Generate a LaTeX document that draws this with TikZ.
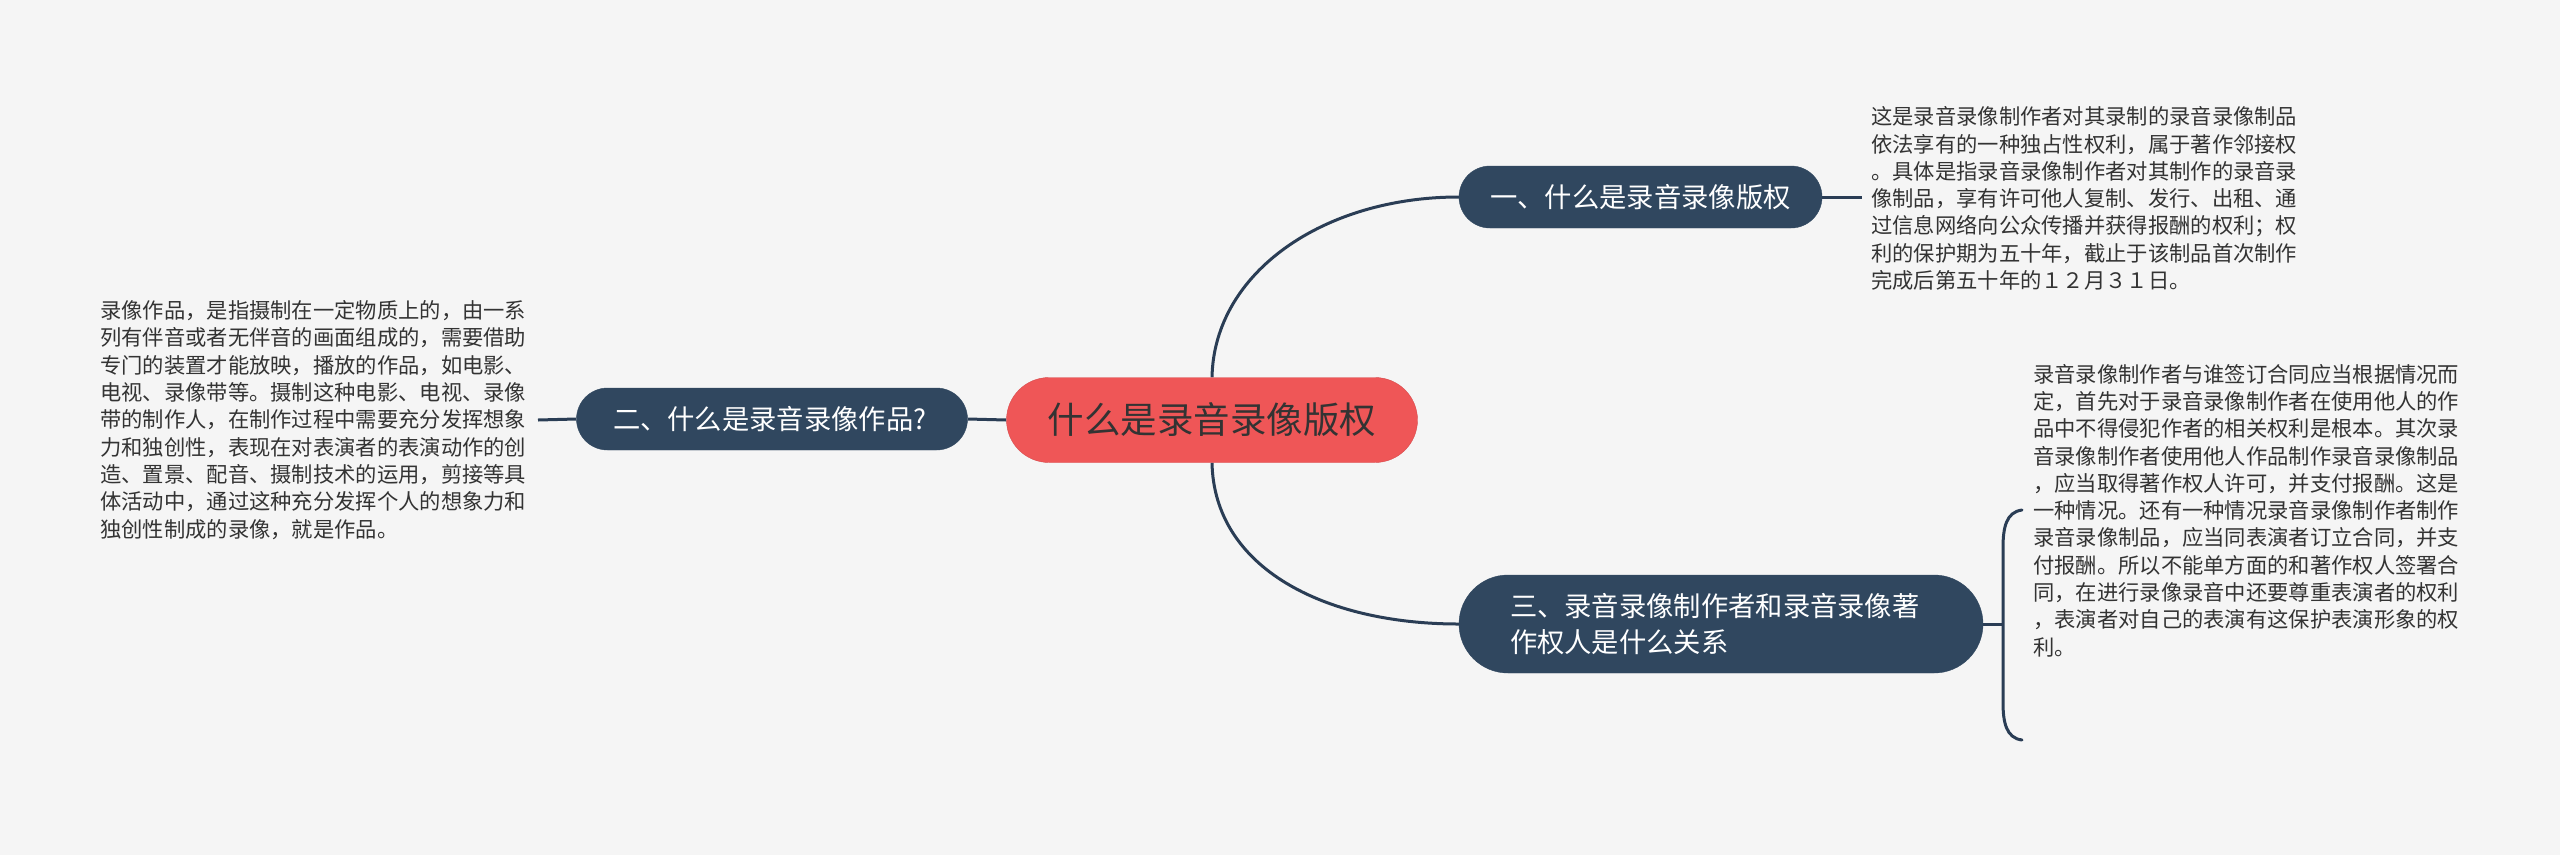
\documentclass[tikz,border=0pt]{standalone}
\usepackage{fontspec}
\setmainfont{Noto Sans CJK SC}
\definecolor{bgc}{HTML}{F5F5F5}
\definecolor{navy}{HTML}{30475F}
\definecolor{linec}{HTML}{2A3D55}
\definecolor{redc}{HTML}{EF5657}
\definecolor{txt}{HTML}{333333}
\pgfdeclarelayer{bg}
\pgfsetlayers{bg,main}
\tikzset{
  topic/.style={fill=navy, draw=navy, text=white, inner sep=0pt, minimum height=62pt, rounded corners=31pt, font=\fontsize{27.3}{36}\selectfont},
  centertopic/.style={fill=redc, draw=redc!90!black, text=txt, inner sep=0pt, minimum width=411pt, minimum height=85pt, rounded corners=42.5pt, font=\fontsize{36.5}{44}\selectfont},
  desc/.style={inner sep=0pt, text=txt, align=left, font=\fontsize{21.3}{27.3}\selectfont},
  conn/.style={draw=linec, line width=3pt},
}
\begin{document}
\begin{tikzpicture}[x=1pt,y=-1pt]
\useasboundingbox (0,0) rectangle (2560,855);

\node[centertopic] (c) at (1212,420) {什么是录音录像版权};
\node[topic, minimum width=363pt] (n1) at (1640.5,197) {一、什么是录音录像版权};
\node[topic, minimum width=391pt, text width=318pt, align=left, inner xsep=33pt] (n2) at (772,419) {二、什么是录音录像作品?};
\node[topic, minimum height=98pt, rounded corners=49pt, text width=422pt, inner xsep=51pt, align=left] (n3) at (1721,624) {三、录音录像制作者和录音录像著\\作权人是什么关系};

\node[desc, anchor=west] (t1) at (1871,198.5) {这是录音录像制作者对其录制的录音录像制品\\依法享有的一种独占性权利，属于著作邻接权\\。具体是指录音录像制作者对其制作的录音录\\像制品，享有许可他人复制、发行、出租、通\\过信息网络向公众传播并获得报酬的权利；权\\利的保护期为五十年，截止于该制品首次制作\\完成后第五十年的１２月３１日。};
\node[desc, anchor=west] (t2) at (100,420) {录像作品，是指摄制在一定物质上的，由一系\\列有伴音或者无伴音的画面组成的，需要借助\\专门的装置才能放映，播放的作品，如电影、\\电视、录像带等。摄制这种电影、电视、录像\\带的制作人，在制作过程中需要充分发挥想象\\力和独创性，表现在对表演者的表演动作的创\\造、置景、配音、摄制技术的运用，剪接等具\\体活动中，通过这种充分发挥个人的想象力和\\独创性制成的录像，就是作品。};
\node[desc, anchor=west] (t3) at (2033,510.5) {录音录像制作者与谁签订合同应当根据情况而\\定，首先对于录音录像制作者在使用他人的作\\品中不得侵犯作者的相关权利是根本。其次录\\音录像制作者使用他人作品制作录音录像制品\\，应当取得著作权人许可，并支付报酬。这是\\一种情况。还有一种情况录音录像制作者制作\\录音录像制品，应当同表演者订立合同，并支\\付报酬。所以不能单方面的和著作权人签署合\\同，在进行录像录音中还要尊重表演者的权利\\，表演者对自己的表演有这保护表演形象的权\\利。};

\coordinate (e1) at (1862,197);
\coordinate (e2) at (538,420);
\coordinate (bm) at (2003,624);
\coordinate (bt) at (2022,510);
\coordinate (bb) at (2022,740);

\begin{pgfonlayer}{bg}
\fill[bgc] (0,0) rectangle (2560,855);
\draw[conn] (c.north) .. controls +(2,-105) and +(-135,0) .. (n1.west);
\draw[conn] (c.south) .. controls +(2,105) and +(-135,0) .. (n3.west);
\draw[conn] (c.west) -- (n2.east);
\draw[conn] (n2.west) -- (e2);
\draw[conn] (n1.east) -- (e1);
\draw[conn] (n3.east) -- (bm);
\draw[conn, line cap=round] (bt) .. controls (2006,512) and (2003,528) .. (2003,548) -- (2003,702) .. controls (2003,722) and (2006,738) .. (bb);
\end{pgfonlayer}
\end{tikzpicture}
\end{document}
